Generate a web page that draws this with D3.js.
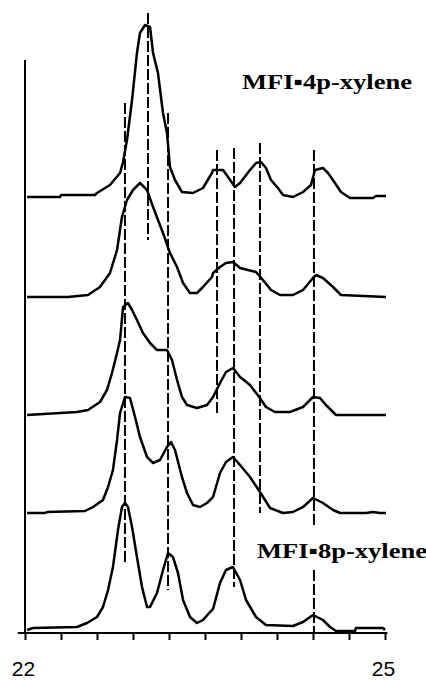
<!DOCTYPE html>
<meta charset="utf-8">
<script src="https://cdn.jsdelivr.net/npm/d3@7"></script>
<style>
  body { margin: 0; background: #fff; }
</style>
<div id="chart"></div>
<script>

// scans, stacked from top (4p-xylene) to bottom (8p-xylene): [2theta, intensity]
var trace1 = [[22.017,0],[22.292,0],[22.3,2],[22.583,2],[22.6,4],[22.708,12],[22.792,24],[22.817,35],[22.85,57],[22.892,97],[22.933,144],[22.958,164],[23.0,172],[23.042,170],[23.067,144],[23.108,124],[23.15,84],[23.183,64],[23.208,30],[23.25,17],[23.308,5],[23.4,4],[23.483,9],[23.558,24],[23.567,27],[23.65,27],[23.692,20],[23.75,10],[23.792,14],[23.875,27],[23.925,34],[23.967,35],[24.008,29],[24.05,17],[24.108,9],[24.15,2],[24.233,0],[24.317,5],[24.383,12],[24.417,27],[24.483,29],[24.525,24],[24.583,14],[24.633,5],[24.708,-1],[24.9,-1],[24.925,1],[25.008,1]];
var trace2 = [[22.017,0],[22.358,0],[22.525,2],[22.625,10],[22.708,24],[22.767,47],[22.808,80],[22.85,97],[22.9,107],[22.958,114],[23.017,107],[23.067,90],[23.15,64],[23.208,44],[23.267,30],[23.317,14],[23.375,4],[23.433,4],[23.483,10],[23.558,20],[23.567,24],[23.625,30],[23.675,34],[23.733,35],[23.792,29],[23.925,25],[23.983,17],[24.05,7],[24.125,2],[24.233,2],[24.317,7],[24.4,19],[24.425,22],[24.483,19],[24.567,10],[24.633,2],[25.008,0]];
var trace3 = [[22.017,0],[22.433,3],[22.525,5],[22.625,13],[22.683,25],[22.725,42],[22.767,62],[22.792,75],[22.817,108],[22.858,112],[22.892,105],[22.933,95],[22.983,82],[23.042,72],[23.1,65],[23.183,65],[23.225,55],[23.267,35],[23.308,18],[23.35,10],[23.433,7],[23.517,10],[23.567,18],[23.625,32],[23.675,43],[23.733,47],[23.792,38],[23.875,30],[23.958,17],[24.008,8],[24.083,3],[24.208,3],[24.317,8],[24.4,18],[24.458,17],[24.508,10],[24.592,0],[25.008,0]];
var trace4 = [[22.017,0],[22.167,0],[22.183,1],[22.5,2],[22.567,6],[22.65,13],[22.692,26],[22.733,43],[22.767,73],[22.792,100],[22.833,116],[22.875,115],[22.917,96],[22.958,76],[23.017,56],[23.067,50],[23.125,53],[23.183,66],[23.217,71],[23.25,63],[23.308,36],[23.35,20],[23.4,8],[23.458,6],[23.517,10],[23.567,16],[23.625,40],[23.675,51],[23.733,56],[23.792,48],[23.875,36],[23.958,21],[24.042,5],[24.15,0],[24.233,1],[24.317,6],[24.4,15],[24.483,10],[24.567,3],[24.625,0],[24.842,0],[24.9,1],[24.958,0],[25.008,0]];
var trace5 = [[22.017,0],[22.067,2],[22.433,3],[22.517,7],[22.6,13],[22.65,23],[22.692,40],[22.733,63],[22.775,100],[22.808,123],[22.833,127],[22.858,123],[22.892,103],[22.933,73],[22.975,43],[23.017,23],[23.042,23],[23.1,37],[23.15,60],[23.192,77],[23.233,73],[23.275,57],[23.317,30],[23.375,13],[23.433,7],[23.483,10],[23.542,18],[23.567,21],[23.625,47],[23.675,60],[23.733,63],[23.792,50],[23.842,30],[23.925,13],[24.008,5],[24.233,4],[24.317,8],[24.4,15],[24.483,10],[24.542,3],[24.592,-1],[24.75,-1],[24.758,2],[24.983,2],[25.0,0]];

var traces = [trace1, trace2, trace3, trace4, trace5];
var offsets = [436, 336, 218, 120, 3];   // vertical shift of each scan

// reference lines: [2theta, from, to] (same units as offsets)
var refLines = [[22.833,70,530],[23.025,393,620],[23.192,43,520],[23.6,218,483],[23.742,46,485],[23.958,120,490],[24.408,108,483],[24.408,0,63]];

var tickVals = [22,22.3,22.6,22.9,23.2,23.5,23.8,24.1,24.4,24.7,25];
var tickLabels = {22: "22", 25: "25"};
var labels = [["MFI\u25aa4p-xylene", 436 + 108], ["MFI\u25aa8p-xylene", 3 + 72]];

var width = 426, height = 680;

var svg = d3.select("#chart")
  .append("svg")
    .attr("width", width)
    .attr("height", height)

var x = d3.scaleLinear()
  .domain([22, 25])
  .range([25, 385])

var y = d3.scaleLinear()
  .domain([0, 633])
  .range([633, 0])

// x axis
var xAxis = svg.append("g")
  .attr("transform", "translate(0," + y(0) + ")")
  .call(d3.axisBottom(x)
    .tickValues(tickVals)
    .tickSizeInner(7)
    .tickSizeOuter(0)
    .tickPadding(21)
    .tickFormat(function(d) { return tickLabels[Math.round(d*10)/10] || ""; }))
xAxis.select(".domain").remove()
xAxis.selectAll("line").attr("stroke", "#000").attr("stroke-width", 2)
xAxis.selectAll("text")
  .attr("fill", "#000")
  .style("font-family", "'Liberation Sans', Arial, sans-serif")
  .style("font-size", "21px")
  .attr("dx", -2)
xAxis.append("line")
  .attr("x1", x(21.94)).attr("x2", x(25.02))
  .attr("stroke", "#000").attr("stroke-width", 2)

// y axis (plain line)
svg.append("line")
  .attr("x1", x(22)).attr("x2", x(22))
  .attr("y1", y(573)).attr("y2", y(0))
  .attr("stroke", "#000").attr("stroke-width", 2)

// dashed reference lines
svg.append("g")
  .selectAll("line")
  .data(refLines)
  .enter()
  .append("line")
    .attr("x1", function(d) { return x(d[0]); })
    .attr("x2", function(d) { return x(d[0]); })
    .attr("y1", function(d) { return y(d[2]); })
    .attr("y2", function(d) { return y(d[1]); })
    .attr("stroke", "#000")
    .attr("stroke-width", 2)
    .attr("stroke-dasharray", "11,3")

// scans
var line = d3.line()
  .x(function(d) { return x(d[0]); })
  .y(function(d) { return y(d[1] + d.off); })

svg.append("g")
  .selectAll("path")
  .data(traces)
  .enter()
  .append("path")
    .attr("d", function(d, i) {
      return line(d.map(function(p) { var q = p.slice(); q.off = offsets[i]; return q; }));
    })
    .attr("fill", "none")
    .attr("stroke", "#000")
    .attr("stroke-width", 2.5)
    .attr("stroke-linejoin", "round")

// labels
svg.selectAll(".lab")
  .data(labels)
  .enter()
  .append("text")
    .attr("class", "lab")
    .attr("x", function(d, i) { return i == 0 ? 242 : 257; })
    .attr("y", function(d) { return y(d[1]); })
    .attr("textLength", 170)
    .attr("lengthAdjust", "spacingAndGlyphs")
    .style("font-family", "'Liberation Serif', 'Times New Roman', serif")
    .style("font-size", "21px")
    .style("font-weight", "bold")
    .text(function(d) { return d[0]; })

</script>
